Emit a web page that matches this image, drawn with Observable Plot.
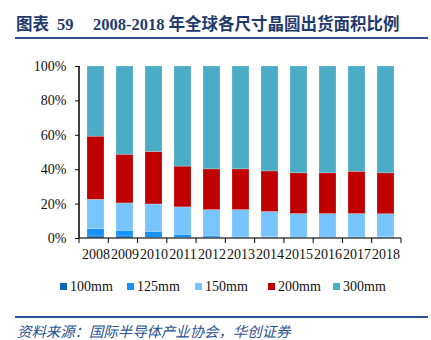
<!DOCTYPE html>
<html>
<head>
<meta charset="utf-8">
<script src="https://cdn.jsdelivr.net/npm/d3@7"></script>
<script src="https://cdn.jsdelivr.net/npm/@observablehq/plot@0.6"></script>
<style>
  html, body { margin: 0; padding: 0; background: #fff; }
  #wrap { position: relative; width: 431px; height: 340px; overflow: hidden; font-family: "Liberation Serif", "Noto Sans CJK SC", serif; }
  .title { position: absolute; top: 15px; font-weight: bold; font-size: 16.5px; color: #1f3b6e; white-space: pre; line-height: 20px; font-family: "Liberation Serif", "Noto Sans CJK SC", serif; }
  .rule { position: absolute; left: 15px; width: 413px; height: 2px; background: #2a5293; }
  #chart { position: absolute; left: 0; top: 40px; }
  #legend { position: absolute; top: 278px; left: 0; width: 431px; height: 18px; font-size: 14px; color: #111; }
  .li { position: absolute; top: 0; line-height: 18px; white-space: nowrap; }
  .sw { display: inline-block; width: 7px; height: 7px; margin-right: 3px; vertical-align: 1px; }
  #source { position: absolute; left: 17px; top: 322px; font-size: 14.4px; font-style: italic; color: #2a5293; font-family: "Noto Sans CJK SC", sans-serif; line-height: 17px; white-space: nowrap; }
</style>
</head>
<body>
<div id="wrap">
  <div class="title" style="left:16px">图表</div>
  <div class="title" style="left:57px">59</div>
  <div class="title" style="left:93px">2008-2018 年全球各尺寸晶圆出货面积比例</div>
  <div class="rule" style="top:37px"></div>
  <div id="chart"></div>
  <div id="legend"></div>
  <div class="rule" style="top:316px"></div>
  <div id="source">资料来源：国际半导体产业协会，华创证券</div>
</div>
<script>
const years = ["2008","2009","2010","2011","2012","2013","2014","2015","2016","2017","2018"];
const sizes = ["100mm","125mm","150mm","200mm","300mm"];
const colors = ["#0a66b8","#1493ff","#78c4ff","#c00000","#4bacc6"];
const share100 = [1.2, 1.2, 0.3, 0.2, 0.2, 0.2, 0.2, 0.2, 0.2, 0.2, 0.2];
const share125 = [4.3, 3.3, 3.6, 2.0, 1.0, 0.8, 0.6, 0.3, 0.3, 0.8, 0.5];
const share150 = [17.0, 15.9, 15.9, 15.9, 15.3, 15.5, 14.6, 13.7, 13.7, 13.2, 13.4];
const share200 = [36.7, 28.3, 30.5, 23.7, 23.7, 23.7, 23.6, 23.7, 23.7, 24.6, 23.8];
const share300 = [40.8, 51.3, 49.7, 58.2, 59.8, 59.8, 61.0, 62.1, 62.1, 61.2, 62.1];
const yTicks = [0, 20, 40, 60, 80, 100];

const series = [share100, share125, share150, share200, share300];
const data = [];
years.forEach((yr, i) => sizes.forEach((s, k) => data.push({year: yr, size: s, value: series[k][i]})));

const W = 431, H = 230, mL = 79, mR = 30, mT = 26, mB = 32;

const axes = (index, scales, values, dims) => {
  const g = d3.create("svg:g").attr("stroke", "#000").attr("fill", "none");
  const y0 = scales.y(0), y1 = scales.y(100);
  const x0 = dims.marginLeft, x1 = dims.width - dims.marginRight;
  const step = (x1 - x0) / years.length;
  g.append("line").attr("x1", x0).attr("x2", x0).attr("y1", y1).attr("y2", y0 + 0.5).attr("stroke-width", 1.5);
  g.append("line").attr("x1", x0).attr("x2", x1).attr("y1", y0).attr("y2", y0).attr("stroke", "#444").attr("stroke-width", 1.5);
  for (let i = 0; i <= years.length; i++) {
    const x = x0 + i * step;
    g.append("line").attr("x1", x).attr("x2", x).attr("y1", y0).attr("y2", y0 + 5).attr("stroke-width", 1);
  }
  return g.node();
};

const plot = Plot.plot({
  width: W, height: H,
  marginLeft: mL, marginRight: mR, marginTop: mT, marginBottom: mB,
  style: {fontFamily: "Liberation Serif, serif", fontSize: "14px", color: "#111", background: "transparent"},
  x: {domain: years, paddingInner: 0.42, paddingOuter: 0.21, label: null},
  y: {domain: [0, 100], label: null},
  color: {domain: sizes, range: colors},
  marks: [
    Plot.barY(data, {x: "year", y: "value", fill: "size", order: sizes, stroke: "#ffffff", strokeOpacity: 0.35, strokeWidth: 0.6}),
    Plot.axisY({ticks: yTicks, tickFormat: d => d + "%", tickSize: 4, tickPadding: 9, label: null, fontSize: 14}),
    Plot.axisX({tickSize: 0, tickPadding: 11, label: null, fontSize: 14}),
    axes
  ]
});
document.getElementById("chart").appendChild(plot);

const legendX = [60, 127, 195, 268, 333];
const lg = document.getElementById("legend");
sizes.forEach((s, k) => {
  const d = document.createElement("div");
  d.className = "li";
  d.style.left = legendX[k] + "px";
  d.innerHTML = `<span class="sw" style="background:${colors[k]}"></span>${s}`;
  lg.appendChild(d);
});
</script>
</body>
</html>
